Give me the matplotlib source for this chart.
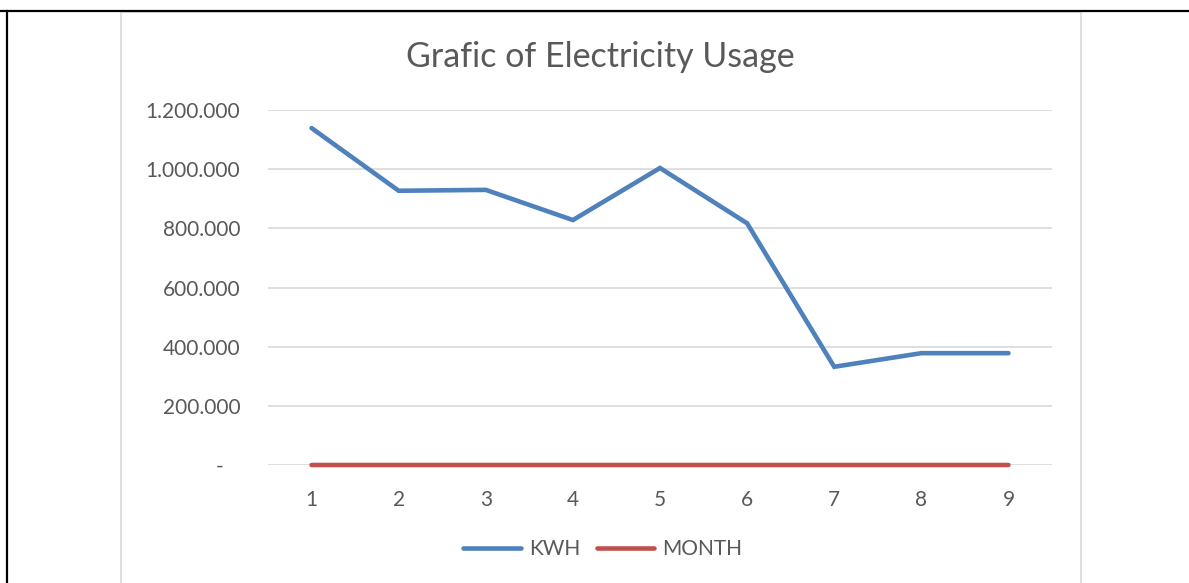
import matplotlib.pyplot as plt
from matplotlib.lines import Line2D
from matplotlib.patches import Rectangle
from matplotlib.ticker import FuncFormatter

# data
months = [1, 2, 3, 4, 5, 6, 7, 8, 9]
kwh = [1139000, 927000, 930000, 828000, 1004000, 817000, 332000, 378000, 378000]
month_vals = [1, 2, 3, 4, 5, 6, 7, 8, 9]
yticks = [0, 200000, 400000, 600000, 800000, 1000000, 1200000]

plt.rcParams['font.family'] = ['Lato', 'DejaVu Sans']
txt = '#595959'

W, H = 1189, 583
fig = plt.figure(figsize=(W / 100, H / 100), dpi=100)

# outer black page border (top and left) and grey chart frame
fig.add_artist(Line2D([0, 1], [1 - 11 / H, 1 - 11 / H], color='black', lw=1.6))
fig.add_artist(Line2D([7 / W, 7 / W], [0, 1 - 11 / H], color='black', lw=1.6))
fig.add_artist(Rectangle((121 / W, -0.05), (1081 - 121) / W, 1 - 12 / H + 0.05,
                         fill=False, edgecolor='#d9d9d9', lw=1.2))

ax = fig.add_axes([268 / W, 1 - 465 / H, (1052 - 268) / W, (465 - 110) / H])
ax.plot(months, kwh, color='#4f81bd', lw=3.3, solid_capstyle='round',
        solid_joinstyle='miter', label='KWH', zorder=3, clip_on=False)
ax.plot(months, month_vals, color='#c0504d', lw=3.3, solid_capstyle='round',
        label='MONTH', zorder=3, clip_on=False)

ax.set_xlim(0.5, 9.5)
ax.set_ylim(0, 1200000)
ax.set_xticks(months)
ax.set_yticks(yticks)


def fmt(v, pos):
    if v == 0:
        return '-   '
    return '{:,.0f}'.format(v).replace(',', '.')


ax.yaxis.set_major_formatter(FuncFormatter(fmt))
ax.grid(axis='y', color='#d9d9d9', lw=1.2)
ax.set_axisbelow(True)
for s in ax.spines.values():
    s.set_visible(False)
ax.tick_params(length=0, labelsize=15, labelcolor=txt)
ax.tick_params(axis='y', pad=20)
ax.tick_params(axis='x', pad=18)

fig.text(600 / W, 1 - 57 / H, 'Grafic of Electricity Usage', ha='center',
         va='center', fontsize=24.5, color=txt)

fig.legend(loc='center', bbox_to_anchor=(603 / W, 1 - 549 / H), ncol=2,
           frameon=False, fontsize=15, labelcolor=txt, handlelength=2.75,
           columnspacing=0.8, handletextpad=0.4)

fig.savefig('out.png', dpi=100, facecolor='white')
